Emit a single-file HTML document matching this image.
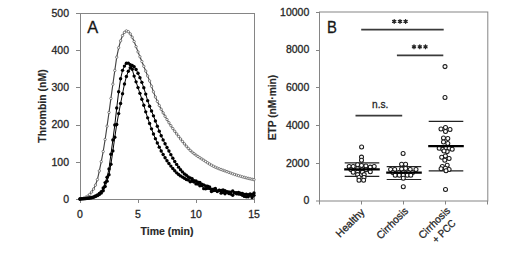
<!DOCTYPE html>
<html><head><meta charset="utf-8"><style>
html,body{margin:0;padding:0;background:#fff;}
body{width:520px;height:260px;overflow:hidden;}
svg{display:block;font-family:'Liberation Sans',sans-serif}
text{stroke:#262626;stroke-width:0.3px;}
text.b{stroke-width:0.15px;}
</style></head><body>
<svg width="520" height="260" viewBox="0 0 520 260">
<rect width="520" height="260" fill="#fff"/>
<rect x="80.5" y="13.5" width="174.0" height="186.0" fill="none" stroke="#858585" stroke-width="1"/>
<line x1="76" y1="199.5" x2="80.5" y2="199.5" stroke="#858585" stroke-width="1"/>
<text x="69" y="202.8" text-anchor="end" font-size="10.5" fill="#262626">0</text>
<line x1="76" y1="162.5" x2="80.5" y2="162.5" stroke="#858585" stroke-width="1"/>
<text x="69" y="165.6" text-anchor="end" font-size="10.5" fill="#262626">100</text>
<line x1="76" y1="125.5" x2="80.5" y2="125.5" stroke="#858585" stroke-width="1"/>
<text x="69" y="128.4" text-anchor="end" font-size="10.5" fill="#262626">200</text>
<line x1="76" y1="87.5" x2="80.5" y2="87.5" stroke="#858585" stroke-width="1"/>
<text x="69" y="91.2" text-anchor="end" font-size="10.5" fill="#262626">300</text>
<line x1="76" y1="50.5" x2="80.5" y2="50.5" stroke="#858585" stroke-width="1"/>
<text x="69" y="54.0" text-anchor="end" font-size="10.5" fill="#262626">400</text>
<line x1="76" y1="13.5" x2="80.5" y2="13.5" stroke="#858585" stroke-width="1"/>
<text x="69" y="16.8" text-anchor="end" font-size="10.5" fill="#262626">500</text>
<line x1="80.5" y1="199.5" x2="80.5" y2="203" stroke="#858585" stroke-width="1"/>
<text x="80.0" y="218" text-anchor="middle" font-size="10.5" fill="#262626">0</text>
<line x1="138.5" y1="199.5" x2="138.5" y2="203" stroke="#858585" stroke-width="1"/>
<text x="138.0" y="218" text-anchor="middle" font-size="10.5" fill="#262626">5</text>
<line x1="196.5" y1="199.5" x2="196.5" y2="203" stroke="#858585" stroke-width="1"/>
<text x="196.0" y="218" text-anchor="middle" font-size="10.5" fill="#262626">10</text>
<line x1="254.5" y1="199.5" x2="254.5" y2="203" stroke="#858585" stroke-width="1"/>
<text x="254.0" y="218" text-anchor="middle" font-size="10.5" fill="#262626">15</text>
<text x="167" y="234.5" text-anchor="middle" font-size="10.5" font-weight="bold" class="b" fill="#262626">Time (min)</text>
<text transform="translate(45.6,106) rotate(-90)" text-anchor="middle" font-size="10.5" font-weight="bold" class="b" fill="#262626">Thrombin (nM)</text>
<text x="87.2" y="32.8" font-size="16.4" fill="#111">A</text>
<polyline points="80.00,199.00 81.93,198.76 83.87,198.12 85.80,197.21 87.73,196.14 89.67,194.41 91.60,192.03 93.53,189.09 95.47,185.14 97.40,179.56 99.33,170.88 101.27,161.65 103.20,151.51 105.13,139.51 107.07,126.19 109.00,112.46 110.93,98.45 112.87,84.23 114.80,70.46 116.73,57.20 118.67,47.77 120.60,40.81 122.53,35.49 124.47,32.38 126.40,30.90 128.33,31.68 130.27,33.88 132.20,37.21 134.13,41.51 136.07,46.67 138.00,51.91 139.93,56.74 141.87,61.50 143.80,66.31 145.73,71.10 147.67,75.94 149.60,80.91 151.53,86.23 153.47,91.83 155.40,96.99 157.33,101.38 159.27,105.45 161.20,109.27 163.13,112.87 165.07,116.29 167.00,119.56 168.93,122.70 170.87,125.68 172.80,128.52 174.73,131.25 176.67,133.88 178.60,136.43 180.53,138.93 182.47,141.42 184.40,143.85 186.33,146.18 188.27,148.36 190.20,150.36 192.13,152.12 194.07,153.69 196.00,155.13 197.93,156.46 199.87,157.72 201.80,158.96 203.73,160.22 205.67,161.50 207.60,162.77 209.53,164.01 211.47,165.18 213.40,166.25 215.33,167.21 217.27,168.05 219.20,168.82 221.13,169.55 223.07,170.24 225.00,170.93 226.93,171.63 228.87,172.35 230.80,173.06 232.73,173.77 234.67,174.45 236.60,175.09 238.53,175.69 240.47,176.26 242.40,176.81 244.33,177.35 246.27,177.86 248.20,178.35 250.13,178.81 252.07,179.25 254.00,179.66" fill="none" stroke="#444" stroke-width="1.15" stroke-linejoin="round"/>
<circle cx="80.00" cy="199.00" r="1.2" fill="#fff" stroke="#505050" stroke-width="0.7"/><circle cx="81.93" cy="198.76" r="1.2" fill="#fff" stroke="#505050" stroke-width="0.7"/><circle cx="83.87" cy="198.12" r="1.2" fill="#fff" stroke="#505050" stroke-width="0.7"/><circle cx="85.80" cy="197.21" r="1.2" fill="#fff" stroke="#505050" stroke-width="0.7"/><circle cx="87.73" cy="196.14" r="1.2" fill="#fff" stroke="#505050" stroke-width="0.7"/><circle cx="89.67" cy="194.41" r="1.2" fill="#fff" stroke="#505050" stroke-width="0.7"/><circle cx="91.60" cy="192.03" r="1.2" fill="#fff" stroke="#505050" stroke-width="0.7"/><circle cx="93.53" cy="189.09" r="1.2" fill="#fff" stroke="#505050" stroke-width="0.7"/><circle cx="95.47" cy="185.14" r="1.2" fill="#fff" stroke="#505050" stroke-width="0.7"/><circle cx="97.40" cy="179.56" r="1.2" fill="#fff" stroke="#505050" stroke-width="0.7"/><circle cx="99.33" cy="170.88" r="1.2" fill="#fff" stroke="#505050" stroke-width="0.7"/><circle cx="101.27" cy="161.65" r="1.2" fill="#fff" stroke="#505050" stroke-width="0.7"/><circle cx="103.20" cy="151.51" r="1.2" fill="#fff" stroke="#505050" stroke-width="0.7"/><circle cx="105.13" cy="139.51" r="1.2" fill="#fff" stroke="#505050" stroke-width="0.7"/><circle cx="107.07" cy="126.19" r="1.2" fill="#fff" stroke="#505050" stroke-width="0.7"/><circle cx="109.00" cy="112.46" r="1.2" fill="#fff" stroke="#505050" stroke-width="0.7"/><circle cx="110.93" cy="98.45" r="1.2" fill="#fff" stroke="#505050" stroke-width="0.7"/><circle cx="112.87" cy="84.23" r="1.2" fill="#fff" stroke="#505050" stroke-width="0.7"/><circle cx="114.80" cy="70.46" r="1.2" fill="#fff" stroke="#505050" stroke-width="0.7"/><circle cx="116.73" cy="57.20" r="1.2" fill="#fff" stroke="#505050" stroke-width="0.7"/><circle cx="118.67" cy="47.77" r="1.2" fill="#fff" stroke="#505050" stroke-width="0.7"/><circle cx="120.60" cy="40.81" r="1.2" fill="#fff" stroke="#505050" stroke-width="0.7"/><circle cx="122.53" cy="35.49" r="1.2" fill="#fff" stroke="#505050" stroke-width="0.7"/><circle cx="124.47" cy="32.38" r="1.2" fill="#fff" stroke="#505050" stroke-width="0.7"/><circle cx="126.40" cy="30.90" r="1.2" fill="#fff" stroke="#505050" stroke-width="0.7"/><circle cx="128.33" cy="31.68" r="1.2" fill="#fff" stroke="#505050" stroke-width="0.7"/><circle cx="130.27" cy="33.88" r="1.2" fill="#fff" stroke="#505050" stroke-width="0.7"/><circle cx="132.20" cy="37.21" r="1.2" fill="#fff" stroke="#505050" stroke-width="0.7"/><circle cx="134.13" cy="41.51" r="1.2" fill="#fff" stroke="#505050" stroke-width="0.7"/><circle cx="136.07" cy="46.67" r="1.2" fill="#fff" stroke="#505050" stroke-width="0.7"/><circle cx="138.00" cy="51.91" r="1.2" fill="#fff" stroke="#505050" stroke-width="0.7"/><circle cx="139.93" cy="56.74" r="1.2" fill="#fff" stroke="#505050" stroke-width="0.7"/><circle cx="141.87" cy="61.50" r="1.2" fill="#fff" stroke="#505050" stroke-width="0.7"/><circle cx="143.80" cy="66.31" r="1.2" fill="#fff" stroke="#505050" stroke-width="0.7"/><circle cx="145.73" cy="71.10" r="1.2" fill="#fff" stroke="#505050" stroke-width="0.7"/><circle cx="147.67" cy="75.94" r="1.2" fill="#fff" stroke="#505050" stroke-width="0.7"/><circle cx="149.60" cy="80.91" r="1.2" fill="#fff" stroke="#505050" stroke-width="0.7"/><circle cx="151.53" cy="86.23" r="1.2" fill="#fff" stroke="#505050" stroke-width="0.7"/><circle cx="153.47" cy="91.83" r="1.2" fill="#fff" stroke="#505050" stroke-width="0.7"/><circle cx="155.40" cy="96.99" r="1.2" fill="#fff" stroke="#505050" stroke-width="0.7"/><circle cx="157.33" cy="101.38" r="1.2" fill="#fff" stroke="#505050" stroke-width="0.7"/><circle cx="159.27" cy="105.45" r="1.2" fill="#fff" stroke="#505050" stroke-width="0.7"/><circle cx="161.20" cy="109.27" r="1.2" fill="#fff" stroke="#505050" stroke-width="0.7"/><circle cx="163.13" cy="112.87" r="1.2" fill="#fff" stroke="#505050" stroke-width="0.7"/><circle cx="165.07" cy="116.29" r="1.2" fill="#fff" stroke="#505050" stroke-width="0.7"/><circle cx="167.00" cy="119.56" r="1.2" fill="#fff" stroke="#505050" stroke-width="0.7"/><circle cx="168.93" cy="122.70" r="1.2" fill="#fff" stroke="#505050" stroke-width="0.7"/><circle cx="170.87" cy="125.68" r="1.2" fill="#fff" stroke="#505050" stroke-width="0.7"/><circle cx="172.80" cy="128.52" r="1.2" fill="#fff" stroke="#505050" stroke-width="0.7"/><circle cx="174.73" cy="131.25" r="1.2" fill="#fff" stroke="#505050" stroke-width="0.7"/><circle cx="176.67" cy="133.88" r="1.2" fill="#fff" stroke="#505050" stroke-width="0.7"/><circle cx="178.60" cy="136.43" r="1.2" fill="#fff" stroke="#505050" stroke-width="0.7"/><circle cx="180.53" cy="138.93" r="1.2" fill="#fff" stroke="#505050" stroke-width="0.7"/><circle cx="182.47" cy="141.42" r="1.2" fill="#fff" stroke="#505050" stroke-width="0.7"/><circle cx="184.40" cy="143.85" r="1.2" fill="#fff" stroke="#505050" stroke-width="0.7"/><circle cx="186.33" cy="146.18" r="1.2" fill="#fff" stroke="#505050" stroke-width="0.7"/><circle cx="188.27" cy="148.36" r="1.2" fill="#fff" stroke="#505050" stroke-width="0.7"/><circle cx="190.20" cy="150.36" r="1.2" fill="#fff" stroke="#505050" stroke-width="0.7"/><circle cx="192.13" cy="152.12" r="1.2" fill="#fff" stroke="#505050" stroke-width="0.7"/><circle cx="194.07" cy="153.69" r="1.2" fill="#fff" stroke="#505050" stroke-width="0.7"/><circle cx="196.00" cy="155.13" r="1.2" fill="#fff" stroke="#505050" stroke-width="0.7"/><circle cx="197.93" cy="156.46" r="1.2" fill="#fff" stroke="#505050" stroke-width="0.7"/><circle cx="199.87" cy="157.72" r="1.2" fill="#fff" stroke="#505050" stroke-width="0.7"/><circle cx="201.80" cy="158.96" r="1.2" fill="#fff" stroke="#505050" stroke-width="0.7"/><circle cx="203.73" cy="160.22" r="1.2" fill="#fff" stroke="#505050" stroke-width="0.7"/><circle cx="205.67" cy="161.50" r="1.2" fill="#fff" stroke="#505050" stroke-width="0.7"/><circle cx="207.60" cy="162.77" r="1.2" fill="#fff" stroke="#505050" stroke-width="0.7"/><circle cx="209.53" cy="164.01" r="1.2" fill="#fff" stroke="#505050" stroke-width="0.7"/><circle cx="211.47" cy="165.18" r="1.2" fill="#fff" stroke="#505050" stroke-width="0.7"/><circle cx="213.40" cy="166.25" r="1.2" fill="#fff" stroke="#505050" stroke-width="0.7"/><circle cx="215.33" cy="167.21" r="1.2" fill="#fff" stroke="#505050" stroke-width="0.7"/><circle cx="217.27" cy="168.05" r="1.2" fill="#fff" stroke="#505050" stroke-width="0.7"/><circle cx="219.20" cy="168.82" r="1.2" fill="#fff" stroke="#505050" stroke-width="0.7"/><circle cx="221.13" cy="169.55" r="1.2" fill="#fff" stroke="#505050" stroke-width="0.7"/><circle cx="223.07" cy="170.24" r="1.2" fill="#fff" stroke="#505050" stroke-width="0.7"/><circle cx="225.00" cy="170.93" r="1.2" fill="#fff" stroke="#505050" stroke-width="0.7"/><circle cx="226.93" cy="171.63" r="1.2" fill="#fff" stroke="#505050" stroke-width="0.7"/><circle cx="228.87" cy="172.35" r="1.2" fill="#fff" stroke="#505050" stroke-width="0.7"/><circle cx="230.80" cy="173.06" r="1.2" fill="#fff" stroke="#505050" stroke-width="0.7"/><circle cx="232.73" cy="173.77" r="1.2" fill="#fff" stroke="#505050" stroke-width="0.7"/><circle cx="234.67" cy="174.45" r="1.2" fill="#fff" stroke="#505050" stroke-width="0.7"/><circle cx="236.60" cy="175.09" r="1.2" fill="#fff" stroke="#505050" stroke-width="0.7"/><circle cx="238.53" cy="175.69" r="1.2" fill="#fff" stroke="#505050" stroke-width="0.7"/><circle cx="240.47" cy="176.26" r="1.2" fill="#fff" stroke="#505050" stroke-width="0.7"/><circle cx="242.40" cy="176.81" r="1.2" fill="#fff" stroke="#505050" stroke-width="0.7"/><circle cx="244.33" cy="177.35" r="1.2" fill="#fff" stroke="#505050" stroke-width="0.7"/><circle cx="246.27" cy="177.86" r="1.2" fill="#fff" stroke="#505050" stroke-width="0.7"/><circle cx="248.20" cy="178.35" r="1.2" fill="#fff" stroke="#505050" stroke-width="0.7"/><circle cx="250.13" cy="178.81" r="1.2" fill="#fff" stroke="#505050" stroke-width="0.7"/><circle cx="252.07" cy="179.25" r="1.2" fill="#fff" stroke="#505050" stroke-width="0.7"/><circle cx="254.00" cy="179.66" r="1.2" fill="#fff" stroke="#505050" stroke-width="0.7"/>
<polyline points="80.00,199.00 81.93,198.87 83.87,198.69 85.80,198.48 87.73,198.25 89.67,197.95 91.60,197.55 93.53,196.90 95.47,196.01 97.40,194.94 99.33,193.55 101.27,191.58 103.20,187.99 105.13,182.61 107.07,177.20 109.00,168.89 110.93,154.23 112.87,139.98 114.80,124.97 116.73,108.02 118.67,91.82 120.60,78.72 122.53,70.36 124.47,66.11 126.40,63.31 128.33,63.14 130.27,64.63 132.20,69.30 134.13,76.12 136.07,81.86 138.00,87.58 139.93,93.36 141.87,99.19 143.80,105.27 145.73,111.83 147.67,117.85 149.60,123.49 151.53,128.87 153.47,133.94 155.40,138.67 157.33,143.06 159.27,147.17 161.20,150.99 163.13,154.49 165.07,157.73 167.00,160.74 168.93,163.53 170.87,166.09 172.80,168.52 174.73,170.81 176.67,172.85 178.60,174.54 180.53,175.90 182.47,177.10 184.40,178.32 186.33,179.45 188.27,180.07 190.20,181.81 192.13,181.22 194.07,181.94 196.00,183.92 197.93,184.00 199.87,185.80 201.80,185.62 203.73,188.63 205.67,188.70 207.60,188.30 209.53,188.58 211.47,191.50 213.40,190.64 215.33,190.41 217.27,191.58 219.20,190.51 221.13,193.13 223.07,192.42 225.00,193.78 226.93,192.23 228.87,193.54 230.80,194.03 232.73,195.24 234.67,192.90 236.60,193.79 238.53,194.04 240.47,194.19 242.40,195.28 244.33,196.41 246.27,196.72 248.20,196.86 250.13,195.34 252.07,197.48 254.00,195.35" fill="none" stroke="#000" stroke-width="1" stroke-linejoin="round"/>
<circle cx="80.00" cy="199.00" r="1.7" fill="#000"/><circle cx="81.93" cy="198.87" r="1.7" fill="#000"/><circle cx="83.87" cy="198.69" r="1.7" fill="#000"/><circle cx="85.80" cy="198.48" r="1.7" fill="#000"/><circle cx="87.73" cy="198.25" r="1.7" fill="#000"/><circle cx="89.67" cy="197.95" r="1.7" fill="#000"/><circle cx="91.60" cy="197.55" r="1.7" fill="#000"/><circle cx="93.53" cy="196.90" r="1.7" fill="#000"/><circle cx="95.47" cy="196.01" r="1.7" fill="#000"/><circle cx="97.40" cy="194.94" r="1.7" fill="#000"/><circle cx="99.33" cy="193.55" r="1.7" fill="#000"/><circle cx="101.27" cy="191.58" r="1.7" fill="#000"/><circle cx="103.20" cy="187.99" r="1.7" fill="#000"/><circle cx="105.13" cy="182.61" r="1.7" fill="#000"/><circle cx="107.07" cy="177.20" r="1.7" fill="#000"/><circle cx="109.00" cy="168.89" r="1.7" fill="#000"/><circle cx="110.93" cy="154.23" r="1.7" fill="#000"/><circle cx="112.87" cy="139.98" r="1.7" fill="#000"/><circle cx="114.80" cy="124.97" r="1.7" fill="#000"/><circle cx="116.73" cy="108.02" r="1.7" fill="#000"/><circle cx="118.67" cy="91.82" r="1.7" fill="#000"/><circle cx="120.60" cy="78.72" r="1.7" fill="#000"/><circle cx="122.53" cy="70.36" r="1.7" fill="#000"/><circle cx="124.47" cy="66.11" r="1.7" fill="#000"/><circle cx="126.40" cy="63.31" r="1.7" fill="#000"/><circle cx="128.33" cy="63.14" r="1.7" fill="#000"/><circle cx="130.27" cy="64.63" r="1.7" fill="#000"/><circle cx="132.20" cy="69.30" r="1.7" fill="#000"/><circle cx="134.13" cy="76.12" r="1.7" fill="#000"/><circle cx="136.07" cy="81.86" r="1.7" fill="#000"/><circle cx="138.00" cy="87.58" r="1.7" fill="#000"/><circle cx="139.93" cy="93.36" r="1.7" fill="#000"/><circle cx="141.87" cy="99.19" r="1.7" fill="#000"/><circle cx="143.80" cy="105.27" r="1.7" fill="#000"/><circle cx="145.73" cy="111.83" r="1.7" fill="#000"/><circle cx="147.67" cy="117.85" r="1.7" fill="#000"/><circle cx="149.60" cy="123.49" r="1.7" fill="#000"/><circle cx="151.53" cy="128.87" r="1.7" fill="#000"/><circle cx="153.47" cy="133.94" r="1.7" fill="#000"/><circle cx="155.40" cy="138.67" r="1.7" fill="#000"/><circle cx="157.33" cy="143.06" r="1.7" fill="#000"/><circle cx="159.27" cy="147.17" r="1.7" fill="#000"/><circle cx="161.20" cy="150.99" r="1.7" fill="#000"/><circle cx="163.13" cy="154.49" r="1.7" fill="#000"/><circle cx="165.07" cy="157.73" r="1.7" fill="#000"/><circle cx="167.00" cy="160.74" r="1.7" fill="#000"/><circle cx="168.93" cy="163.53" r="1.7" fill="#000"/><circle cx="170.87" cy="166.09" r="1.7" fill="#000"/><circle cx="172.80" cy="168.52" r="1.7" fill="#000"/><circle cx="174.73" cy="170.81" r="1.7" fill="#000"/><circle cx="176.67" cy="172.85" r="1.7" fill="#000"/><circle cx="178.60" cy="174.54" r="1.7" fill="#000"/><circle cx="180.53" cy="175.90" r="1.7" fill="#000"/><circle cx="182.47" cy="177.10" r="1.7" fill="#000"/><circle cx="184.40" cy="178.32" r="1.7" fill="#000"/><circle cx="186.33" cy="179.45" r="1.7" fill="#000"/><circle cx="188.27" cy="180.07" r="1.7" fill="#000"/><circle cx="190.20" cy="181.81" r="1.7" fill="#000"/><circle cx="192.13" cy="181.22" r="1.7" fill="#000"/><circle cx="194.07" cy="181.94" r="1.7" fill="#000"/><circle cx="196.00" cy="183.92" r="1.7" fill="#000"/><circle cx="197.93" cy="184.00" r="1.7" fill="#000"/><circle cx="199.87" cy="185.80" r="1.7" fill="#000"/><circle cx="201.80" cy="185.62" r="1.7" fill="#000"/><circle cx="203.73" cy="188.63" r="1.7" fill="#000"/><circle cx="205.67" cy="188.70" r="1.7" fill="#000"/><circle cx="207.60" cy="188.30" r="1.7" fill="#000"/><circle cx="209.53" cy="188.58" r="1.7" fill="#000"/><circle cx="211.47" cy="191.50" r="1.7" fill="#000"/><circle cx="213.40" cy="190.64" r="1.7" fill="#000"/><circle cx="215.33" cy="190.41" r="1.7" fill="#000"/><circle cx="217.27" cy="191.58" r="1.7" fill="#000"/><circle cx="219.20" cy="190.51" r="1.7" fill="#000"/><circle cx="221.13" cy="193.13" r="1.7" fill="#000"/><circle cx="223.07" cy="192.42" r="1.7" fill="#000"/><circle cx="225.00" cy="193.78" r="1.7" fill="#000"/><circle cx="226.93" cy="192.23" r="1.7" fill="#000"/><circle cx="228.87" cy="193.54" r="1.7" fill="#000"/><circle cx="230.80" cy="194.03" r="1.7" fill="#000"/><circle cx="232.73" cy="195.24" r="1.7" fill="#000"/><circle cx="234.67" cy="192.90" r="1.7" fill="#000"/><circle cx="236.60" cy="193.79" r="1.7" fill="#000"/><circle cx="238.53" cy="194.04" r="1.7" fill="#000"/><circle cx="240.47" cy="194.19" r="1.7" fill="#000"/><circle cx="242.40" cy="195.28" r="1.7" fill="#000"/><circle cx="244.33" cy="196.41" r="1.7" fill="#000"/><circle cx="246.27" cy="196.72" r="1.7" fill="#000"/><circle cx="248.20" cy="196.86" r="1.7" fill="#000"/><circle cx="250.13" cy="195.34" r="1.7" fill="#000"/><circle cx="252.07" cy="197.48" r="1.7" fill="#000"/><circle cx="254.00" cy="195.35" r="1.7" fill="#000"/>
<polyline points="80.00,199.00 81.93,198.82 83.87,198.63 85.80,198.44 87.73,198.26 89.67,198.07 91.60,197.78 93.53,197.26 95.47,196.54 97.40,195.65 99.33,194.55 101.27,193.00 103.20,190.73 105.13,186.50 107.07,181.16 109.00,174.68 110.93,164.22 112.87,150.92 114.80,137.26 116.73,124.51 118.67,113.58 120.60,103.52 122.53,93.70 124.47,84.01 126.40,76.54 128.33,71.28 130.27,67.65 132.20,65.46 134.13,66.76 136.07,69.44 138.00,73.23 139.93,77.64 141.87,82.36 143.80,87.80 145.73,94.12 147.67,100.67 149.60,106.21 151.53,111.06 153.47,115.85 155.40,120.96 157.33,126.18 159.27,131.22 161.20,135.80 163.13,139.92 165.07,143.77 167.00,147.45 168.93,151.06 170.87,154.66 172.80,158.17 174.73,161.45 176.67,164.40 178.60,167.16 180.53,169.72 182.47,171.92 184.40,173.89 186.33,175.29 188.27,176.93 190.20,177.95 192.13,178.71 194.07,180.66 196.00,181.02 197.93,182.13 199.87,182.46 201.80,184.26 203.73,184.94 205.67,185.97 207.60,186.32 209.53,186.84 211.47,189.12 213.40,189.08 215.33,188.39 217.27,190.85 219.20,190.28 221.13,190.55 223.07,189.95 225.00,190.68 226.93,191.71 228.87,191.98 230.80,192.12 232.73,191.01 234.67,192.65 236.60,192.76 238.53,192.52 240.47,193.17 242.40,193.55 244.33,194.56 246.27,194.09 248.20,194.82 250.13,193.94 252.07,194.34 254.00,193.07" fill="none" stroke="#000" stroke-width="1" stroke-linejoin="round"/>
<circle cx="80.00" cy="199.00" r="1.7" fill="#000"/><circle cx="81.93" cy="198.82" r="1.7" fill="#000"/><circle cx="83.87" cy="198.63" r="1.7" fill="#000"/><circle cx="85.80" cy="198.44" r="1.7" fill="#000"/><circle cx="87.73" cy="198.26" r="1.7" fill="#000"/><circle cx="89.67" cy="198.07" r="1.7" fill="#000"/><circle cx="91.60" cy="197.78" r="1.7" fill="#000"/><circle cx="93.53" cy="197.26" r="1.7" fill="#000"/><circle cx="95.47" cy="196.54" r="1.7" fill="#000"/><circle cx="97.40" cy="195.65" r="1.7" fill="#000"/><circle cx="99.33" cy="194.55" r="1.7" fill="#000"/><circle cx="101.27" cy="193.00" r="1.7" fill="#000"/><circle cx="103.20" cy="190.73" r="1.7" fill="#000"/><circle cx="105.13" cy="186.50" r="1.7" fill="#000"/><circle cx="107.07" cy="181.16" r="1.7" fill="#000"/><circle cx="109.00" cy="174.68" r="1.7" fill="#000"/><circle cx="110.93" cy="164.22" r="1.7" fill="#000"/><circle cx="112.87" cy="150.92" r="1.7" fill="#000"/><circle cx="114.80" cy="137.26" r="1.7" fill="#000"/><circle cx="116.73" cy="124.51" r="1.7" fill="#000"/><circle cx="118.67" cy="113.58" r="1.7" fill="#000"/><circle cx="120.60" cy="103.52" r="1.7" fill="#000"/><circle cx="122.53" cy="93.70" r="1.7" fill="#000"/><circle cx="124.47" cy="84.01" r="1.7" fill="#000"/><circle cx="126.40" cy="76.54" r="1.7" fill="#000"/><circle cx="128.33" cy="71.28" r="1.7" fill="#000"/><circle cx="130.27" cy="67.65" r="1.7" fill="#000"/><circle cx="132.20" cy="65.46" r="1.7" fill="#000"/><circle cx="134.13" cy="66.76" r="1.7" fill="#000"/><circle cx="136.07" cy="69.44" r="1.7" fill="#000"/><circle cx="138.00" cy="73.23" r="1.7" fill="#000"/><circle cx="139.93" cy="77.64" r="1.7" fill="#000"/><circle cx="141.87" cy="82.36" r="1.7" fill="#000"/><circle cx="143.80" cy="87.80" r="1.7" fill="#000"/><circle cx="145.73" cy="94.12" r="1.7" fill="#000"/><circle cx="147.67" cy="100.67" r="1.7" fill="#000"/><circle cx="149.60" cy="106.21" r="1.7" fill="#000"/><circle cx="151.53" cy="111.06" r="1.7" fill="#000"/><circle cx="153.47" cy="115.85" r="1.7" fill="#000"/><circle cx="155.40" cy="120.96" r="1.7" fill="#000"/><circle cx="157.33" cy="126.18" r="1.7" fill="#000"/><circle cx="159.27" cy="131.22" r="1.7" fill="#000"/><circle cx="161.20" cy="135.80" r="1.7" fill="#000"/><circle cx="163.13" cy="139.92" r="1.7" fill="#000"/><circle cx="165.07" cy="143.77" r="1.7" fill="#000"/><circle cx="167.00" cy="147.45" r="1.7" fill="#000"/><circle cx="168.93" cy="151.06" r="1.7" fill="#000"/><circle cx="170.87" cy="154.66" r="1.7" fill="#000"/><circle cx="172.80" cy="158.17" r="1.7" fill="#000"/><circle cx="174.73" cy="161.45" r="1.7" fill="#000"/><circle cx="176.67" cy="164.40" r="1.7" fill="#000"/><circle cx="178.60" cy="167.16" r="1.7" fill="#000"/><circle cx="180.53" cy="169.72" r="1.7" fill="#000"/><circle cx="182.47" cy="171.92" r="1.7" fill="#000"/><circle cx="184.40" cy="173.89" r="1.7" fill="#000"/><circle cx="186.33" cy="175.29" r="1.7" fill="#000"/><circle cx="188.27" cy="176.93" r="1.7" fill="#000"/><circle cx="190.20" cy="177.95" r="1.7" fill="#000"/><circle cx="192.13" cy="178.71" r="1.7" fill="#000"/><circle cx="194.07" cy="180.66" r="1.7" fill="#000"/><circle cx="196.00" cy="181.02" r="1.7" fill="#000"/><circle cx="197.93" cy="182.13" r="1.7" fill="#000"/><circle cx="199.87" cy="182.46" r="1.7" fill="#000"/><circle cx="201.80" cy="184.26" r="1.7" fill="#000"/><circle cx="203.73" cy="184.94" r="1.7" fill="#000"/><circle cx="205.67" cy="185.97" r="1.7" fill="#000"/><circle cx="207.60" cy="186.32" r="1.7" fill="#000"/><circle cx="209.53" cy="186.84" r="1.7" fill="#000"/><circle cx="211.47" cy="189.12" r="1.7" fill="#000"/><circle cx="213.40" cy="189.08" r="1.7" fill="#000"/><circle cx="215.33" cy="188.39" r="1.7" fill="#000"/><circle cx="217.27" cy="190.85" r="1.7" fill="#000"/><circle cx="219.20" cy="190.28" r="1.7" fill="#000"/><circle cx="221.13" cy="190.55" r="1.7" fill="#000"/><circle cx="223.07" cy="189.95" r="1.7" fill="#000"/><circle cx="225.00" cy="190.68" r="1.7" fill="#000"/><circle cx="226.93" cy="191.71" r="1.7" fill="#000"/><circle cx="228.87" cy="191.98" r="1.7" fill="#000"/><circle cx="230.80" cy="192.12" r="1.7" fill="#000"/><circle cx="232.73" cy="191.01" r="1.7" fill="#000"/><circle cx="234.67" cy="192.65" r="1.7" fill="#000"/><circle cx="236.60" cy="192.76" r="1.7" fill="#000"/><circle cx="238.53" cy="192.52" r="1.7" fill="#000"/><circle cx="240.47" cy="193.17" r="1.7" fill="#000"/><circle cx="242.40" cy="193.55" r="1.7" fill="#000"/><circle cx="244.33" cy="194.56" r="1.7" fill="#000"/><circle cx="246.27" cy="194.09" r="1.7" fill="#000"/><circle cx="248.20" cy="194.82" r="1.7" fill="#000"/><circle cx="250.13" cy="193.94" r="1.7" fill="#000"/><circle cx="252.07" cy="194.34" r="1.7" fill="#000"/><circle cx="254.00" cy="193.07" r="1.7" fill="#000"/>
<rect x="319.5" y="12.0" width="168.3" height="189.0" fill="none" stroke="#858585" stroke-width="1"/>
<line x1="316" y1="201.0" x2="320.0" y2="201.0" stroke="#858585" stroke-width="1"/>
<text x="309.3" y="204.3" text-anchor="end" font-size="10.5" fill="#262626">0</text>
<line x1="316" y1="163.5" x2="320.0" y2="163.5" stroke="#858585" stroke-width="1"/>
<text x="309.3" y="166.6" text-anchor="end" font-size="10.5" fill="#262626">2000</text>
<line x1="316" y1="125.5" x2="320.0" y2="125.5" stroke="#858585" stroke-width="1"/>
<text x="309.3" y="128.8" text-anchor="end" font-size="10.5" fill="#262626">4000</text>
<line x1="316" y1="87.5" x2="320.0" y2="87.5" stroke="#858585" stroke-width="1"/>
<text x="309.3" y="91.1" text-anchor="end" font-size="10.5" fill="#262626">6000</text>
<line x1="316" y1="50.5" x2="320.0" y2="50.5" stroke="#858585" stroke-width="1"/>
<text x="309.3" y="53.3" text-anchor="end" font-size="10.5" fill="#262626">8000</text>
<line x1="316" y1="12.5" x2="320.0" y2="12.5" stroke="#858585" stroke-width="1"/>
<text x="309.3" y="15.6" text-anchor="end" font-size="10.5" fill="#262626">10000</text>
<line x1="319.5" y1="201" x2="319.5" y2="204.5" stroke="#858585" stroke-width="1"/>
<line x1="361.5" y1="201" x2="361.5" y2="204.5" stroke="#858585" stroke-width="1"/>
<line x1="403.5" y1="201" x2="403.5" y2="204.5" stroke="#858585" stroke-width="1"/>
<line x1="445.5" y1="201" x2="445.5" y2="204.5" stroke="#858585" stroke-width="1"/>
<line x1="487.5" y1="201" x2="487.5" y2="204.5" stroke="#858585" stroke-width="1"/>
<text transform="translate(276.2,107.5) rotate(-90)" text-anchor="middle" font-size="10.2" font-weight="bold" class="b" fill="#262626">ETP (nM·min)</text>
<text x="327.0" y="32.8" font-size="16.4" fill="#111" textLength="9.9" lengthAdjust="spacingAndGlyphs">B</text>
<text transform="translate(365.3,212.8) rotate(-45)" text-anchor="end" font-size="10.5" fill="#262626">Healthy</text>
<text transform="translate(408.8,211.6) rotate(-45)" text-anchor="end" font-size="10.5" fill="#262626" textLength="39.8" lengthAdjust="spacingAndGlyphs">Cirrhosis</text>
<text transform="translate(450.8,211.4) rotate(-45)" text-anchor="end" font-size="10.5" fill="#262626" textLength="39.8" lengthAdjust="spacingAndGlyphs">Cirrhosis</text>
<text transform="translate(456.3,224.0) rotate(-45)" text-anchor="end" font-size="10.5" fill="#262626" textLength="28.0" lengthAdjust="spacingAndGlyphs">+ PCC</text>
<line x1="361.2" y1="29.6" x2="443.7" y2="29.6" stroke="#3a3a3a" stroke-width="1.6"/>
<line x1="396.9" y1="55.4" x2="443.3" y2="55.4" stroke="#3a3a3a" stroke-width="1.6"/>
<line x1="355.5" y1="115.6" x2="402.2" y2="115.6" stroke="#3a3a3a" stroke-width="1.6"/>
<path d="M394.20 19.55L394.20 23.25M392.60 20.47L395.80 22.32M392.60 22.32L395.80 20.47" stroke="#222" stroke-width="1.35" stroke-linecap="round"/>
<path d="M400.00 19.55L400.00 23.25M398.40 20.47L401.60 22.32M398.40 22.32L401.60 20.47" stroke="#222" stroke-width="1.35" stroke-linecap="round"/>
<path d="M405.60 19.55L405.60 23.25M404.00 20.47L407.20 22.32M404.00 22.32L407.20 20.47" stroke="#222" stroke-width="1.35" stroke-linecap="round"/>
<path d="M414.00 44.95L414.00 48.65M412.40 45.88L415.60 47.72M412.40 47.72L415.60 45.88" stroke="#222" stroke-width="1.35" stroke-linecap="round"/>
<path d="M419.80 44.95L419.80 48.65M418.20 45.88L421.40 47.72M418.20 47.72L421.40 45.88" stroke="#222" stroke-width="1.35" stroke-linecap="round"/>
<path d="M425.50 44.95L425.50 48.65M423.90 45.88L427.10 47.72M423.90 47.72L427.10 45.88" stroke="#222" stroke-width="1.35" stroke-linecap="round"/>
<text x="372.0" y="107.7" font-size="11.2" fill="#262626" textLength="16.4" lengthAdjust="spacingAndGlyphs">n.s.</text>
<line x1="344.7" y1="162.9" x2="379.3" y2="162.9" stroke="#222" stroke-width="1.2"/><line x1="344.7" y1="176.3" x2="379.3" y2="176.3" stroke="#222" stroke-width="1.2"/>
<line x1="386.7" y1="166.6" x2="421.3" y2="166.6" stroke="#222" stroke-width="1.2"/><line x1="386.7" y1="179.5" x2="421.3" y2="179.5" stroke="#222" stroke-width="1.2"/>
<line x1="428.7" y1="121.4" x2="463.3" y2="121.4" stroke="#222" stroke-width="1.2"/><line x1="428.7" y1="170.8" x2="463.3" y2="170.8" stroke="#222" stroke-width="1.2"/>
<circle cx="361.6" cy="146.9" r="2.0" fill="#fff" stroke="#1a1a1a" stroke-width="1.05"/><circle cx="361.5" cy="157.1" r="2.0" fill="#fff" stroke="#1a1a1a" stroke-width="1.05"/><circle cx="361.5" cy="160.2" r="2.0" fill="#fff" stroke="#1a1a1a" stroke-width="1.05"/><circle cx="349.2" cy="166.5" r="2.0" fill="#fff" stroke="#1a1a1a" stroke-width="1.05"/><circle cx="353.2" cy="166.5" r="2.0" fill="#fff" stroke="#1a1a1a" stroke-width="1.05"/><circle cx="357.6" cy="164.8" r="2.0" fill="#fff" stroke="#1a1a1a" stroke-width="1.05"/><circle cx="361.5" cy="165.5" r="2.0" fill="#fff" stroke="#1a1a1a" stroke-width="1.05"/><circle cx="365.9" cy="166.0" r="2.0" fill="#fff" stroke="#1a1a1a" stroke-width="1.05"/><circle cx="370.3" cy="167.1" r="2.0" fill="#fff" stroke="#1a1a1a" stroke-width="1.05"/><circle cx="374.2" cy="166.5" r="2.0" fill="#fff" stroke="#1a1a1a" stroke-width="1.05"/><circle cx="350.9" cy="169.6" r="2.0" fill="#fff" stroke="#1a1a1a" stroke-width="1.05"/><circle cx="357.6" cy="168.8" r="2.0" fill="#fff" stroke="#1a1a1a" stroke-width="1.05"/><circle cx="362.0" cy="169.5" r="2.0" fill="#fff" stroke="#1a1a1a" stroke-width="1.05"/><circle cx="366.0" cy="169.8" r="2.0" fill="#fff" stroke="#1a1a1a" stroke-width="1.05"/><circle cx="353.2" cy="172.3" r="2.0" fill="#fff" stroke="#1a1a1a" stroke-width="1.05"/><circle cx="357.6" cy="172.1" r="2.0" fill="#fff" stroke="#1a1a1a" stroke-width="1.05"/><circle cx="362.5" cy="172.3" r="2.0" fill="#fff" stroke="#1a1a1a" stroke-width="1.05"/><circle cx="370.3" cy="171.7" r="2.0" fill="#fff" stroke="#1a1a1a" stroke-width="1.05"/><circle cx="357.6" cy="174.6" r="2.0" fill="#fff" stroke="#1a1a1a" stroke-width="1.05"/><circle cx="364.2" cy="174.6" r="2.0" fill="#fff" stroke="#1a1a1a" stroke-width="1.05"/><circle cx="359.0" cy="177.5" r="2.0" fill="#fff" stroke="#1a1a1a" stroke-width="1.05"/><circle cx="364.0" cy="177.5" r="2.0" fill="#fff" stroke="#1a1a1a" stroke-width="1.05"/><circle cx="359.0" cy="180.2" r="2.0" fill="#fff" stroke="#1a1a1a" stroke-width="1.05"/><circle cx="363.6" cy="180.2" r="2.0" fill="#fff" stroke="#1a1a1a" stroke-width="1.05"/>
<circle cx="403.1" cy="153.5" r="2.0" fill="#fff" stroke="#1a1a1a" stroke-width="1.05"/><circle cx="401.6" cy="164.3" r="2.0" fill="#fff" stroke="#1a1a1a" stroke-width="1.05"/><circle cx="405.6" cy="164.3" r="2.0" fill="#fff" stroke="#1a1a1a" stroke-width="1.05"/><circle cx="401.6" cy="169.0" r="2.0" fill="#fff" stroke="#1a1a1a" stroke-width="1.05"/><circle cx="405.6" cy="168.4" r="2.0" fill="#fff" stroke="#1a1a1a" stroke-width="1.05"/><circle cx="390.6" cy="169.5" r="2.0" fill="#fff" stroke="#1a1a1a" stroke-width="1.05"/><circle cx="394.7" cy="169.5" r="2.0" fill="#fff" stroke="#1a1a1a" stroke-width="1.05"/><circle cx="410.2" cy="169.5" r="2.0" fill="#fff" stroke="#1a1a1a" stroke-width="1.05"/><circle cx="416.0" cy="169.5" r="2.0" fill="#fff" stroke="#1a1a1a" stroke-width="1.05"/><circle cx="392.9" cy="172.4" r="2.0" fill="#fff" stroke="#1a1a1a" stroke-width="1.05"/><circle cx="398.7" cy="172.4" r="2.0" fill="#fff" stroke="#1a1a1a" stroke-width="1.05"/><circle cx="403.3" cy="172.4" r="2.0" fill="#fff" stroke="#1a1a1a" stroke-width="1.05"/><circle cx="408.5" cy="172.4" r="2.0" fill="#fff" stroke="#1a1a1a" stroke-width="1.05"/><circle cx="412.5" cy="172.4" r="2.0" fill="#fff" stroke="#1a1a1a" stroke-width="1.05"/><circle cx="395.2" cy="175.3" r="2.0" fill="#fff" stroke="#1a1a1a" stroke-width="1.05"/><circle cx="399.3" cy="175.3" r="2.0" fill="#fff" stroke="#1a1a1a" stroke-width="1.05"/><circle cx="403.3" cy="175.3" r="2.0" fill="#fff" stroke="#1a1a1a" stroke-width="1.05"/><circle cx="407.3" cy="175.3" r="2.0" fill="#fff" stroke="#1a1a1a" stroke-width="1.05"/><circle cx="410.8" cy="175.3" r="2.0" fill="#fff" stroke="#1a1a1a" stroke-width="1.05"/><circle cx="403.3" cy="178.2" r="2.0" fill="#fff" stroke="#1a1a1a" stroke-width="1.05"/><circle cx="403.3" cy="186.8" r="2.0" fill="#fff" stroke="#1a1a1a" stroke-width="1.05"/>
<circle cx="445.0" cy="66.6" r="2.0" fill="#fff" stroke="#1a1a1a" stroke-width="1.05"/><circle cx="445.0" cy="97.5" r="2.0" fill="#fff" stroke="#1a1a1a" stroke-width="1.05"/><circle cx="441.0" cy="129.0" r="2.0" fill="#fff" stroke="#1a1a1a" stroke-width="1.05"/><circle cx="445.5" cy="127.5" r="2.0" fill="#fff" stroke="#1a1a1a" stroke-width="1.05"/><circle cx="450.0" cy="129.5" r="2.0" fill="#fff" stroke="#1a1a1a" stroke-width="1.05"/><circle cx="445.5" cy="131.5" r="2.0" fill="#fff" stroke="#1a1a1a" stroke-width="1.05"/><circle cx="443.5" cy="138.0" r="2.0" fill="#fff" stroke="#1a1a1a" stroke-width="1.05"/><circle cx="447.8" cy="138.5" r="2.0" fill="#fff" stroke="#1a1a1a" stroke-width="1.05"/><circle cx="443.5" cy="142.0" r="2.0" fill="#fff" stroke="#1a1a1a" stroke-width="1.05"/><circle cx="447.8" cy="143.5" r="2.0" fill="#fff" stroke="#1a1a1a" stroke-width="1.05"/><circle cx="439.2" cy="148.2" r="2.0" fill="#fff" stroke="#1a1a1a" stroke-width="1.05"/><circle cx="442.9" cy="149.2" r="2.0" fill="#fff" stroke="#1a1a1a" stroke-width="1.05"/><circle cx="446.0" cy="147.9" r="2.0" fill="#fff" stroke="#1a1a1a" stroke-width="1.05"/><circle cx="449.1" cy="148.2" r="2.0" fill="#fff" stroke="#1a1a1a" stroke-width="1.05"/><circle cx="452.2" cy="149.2" r="2.0" fill="#fff" stroke="#1a1a1a" stroke-width="1.05"/><circle cx="447.2" cy="151.6" r="2.0" fill="#fff" stroke="#1a1a1a" stroke-width="1.05"/><circle cx="444.0" cy="151.0" r="2.0" fill="#fff" stroke="#1a1a1a" stroke-width="1.05"/><circle cx="441.7" cy="157.2" r="2.0" fill="#fff" stroke="#1a1a1a" stroke-width="1.05"/><circle cx="445.4" cy="155.9" r="2.0" fill="#fff" stroke="#1a1a1a" stroke-width="1.05"/><circle cx="449.1" cy="158.4" r="2.0" fill="#fff" stroke="#1a1a1a" stroke-width="1.05"/><circle cx="444.8" cy="160.2" r="2.0" fill="#fff" stroke="#1a1a1a" stroke-width="1.05"/><circle cx="447.2" cy="165.2" r="2.0" fill="#fff" stroke="#1a1a1a" stroke-width="1.05"/><circle cx="442.3" cy="166.4" r="2.0" fill="#fff" stroke="#1a1a1a" stroke-width="1.05"/><circle cx="445.4" cy="168.2" r="2.0" fill="#fff" stroke="#1a1a1a" stroke-width="1.05"/><circle cx="449.1" cy="169.5" r="2.0" fill="#fff" stroke="#1a1a1a" stroke-width="1.05"/><circle cx="441.1" cy="168.8" r="2.0" fill="#fff" stroke="#1a1a1a" stroke-width="1.05"/><circle cx="446.0" cy="170.7" r="2.0" fill="#fff" stroke="#1a1a1a" stroke-width="1.05"/><circle cx="445.5" cy="189.5" r="2.0" fill="#fff" stroke="#1a1a1a" stroke-width="1.05"/>
<line x1="344.2" y1="169.4" x2="379.8" y2="169.4" stroke="#000" stroke-width="2.2"/>
<line x1="386.2" y1="172.6" x2="421.8" y2="172.6" stroke="#000" stroke-width="2.2"/>
<line x1="428.2" y1="146.2" x2="463.8" y2="146.2" stroke="#000" stroke-width="2.2"/>
</svg>
</body></html>
